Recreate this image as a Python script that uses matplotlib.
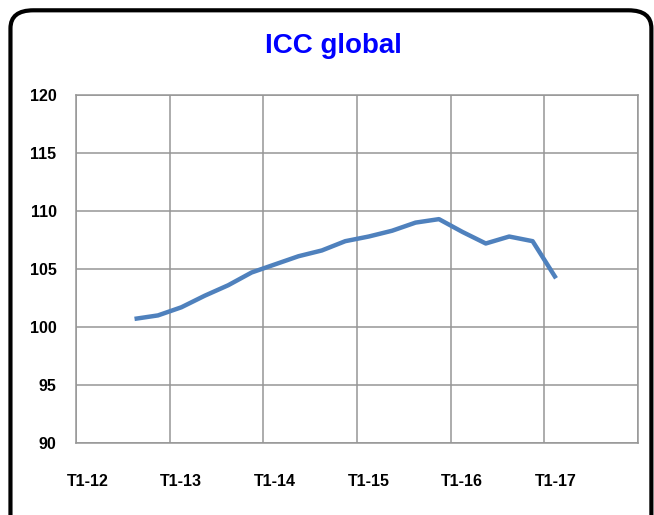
import matplotlib.pyplot as plt
from matplotlib.patches import FancyBboxPatch

# quarterly categories T1-12 .. T4-17, labels on every Q1
year_labels = ['T1-12', 'T1-13', 'T1-14', 'T1-15', 'T1-16', 'T1-17']
n_quarters = 24
first_idx = 2  # series starts at T3-12
icc = [100.7, 101.0, 101.7, 102.7, 103.6, 104.7, 105.4, 106.1, 106.6, 107.4,
       107.8, 108.3, 109.0, 109.3, 108.2, 107.2, 107.8, 107.4, 104.2]

plt.rcParams['font.family'] = ['Liberation Sans Narrow', 'Liberation Sans', 'DejaVu Sans']

fig = plt.figure(figsize=(6.54, 5.15), dpi=100)
ax = fig.add_axes([0.1162, 0.1398, 0.8593, 0.6757])

# rounded frame around the whole chart
frame = FancyBboxPatch((0.016, -0.05), 0.98, 1.03, boxstyle='round,pad=0,rounding_size=0.035',
                       transform=fig.transFigure, fill=False, edgecolor='black', linewidth=3,
                       clip_on=False)
fig.patches.append(frame)

xs = list(range(first_idx, first_idx + len(icc)))
ax.plot(xs, icc, color='#4F81BD', linewidth=3.2, solid_capstyle='butt')

ax.set_xlim(-0.5, n_quarters - 0.5)
ax.set_ylim(90, 120)
ax.set_yticks(range(90, 121, 5))
ax.set_xticks(range(0, n_quarters, 4))
ax.set_xticklabels(year_labels)
ax.set_xticks([-0.5 + 4 * k for k in range(7)], minor=True)

ax.grid(axis='y', color='#969696', linewidth=1.1)
ax.grid(axis='x', which='minor', color='#969696', linewidth=1.1)
ax.set_axisbelow(True)
for s in ax.spines.values():
    s.set_color('#969696')
    s.set_linewidth(1.1)

ax.tick_params(axis='x', which='both', length=0, pad=22)
ax.tick_params(axis='y', length=0, pad=14)
for lab in ax.get_xticklabels() + ax.get_yticklabels():
    lab.set_fontweight('bold')
    lab.set_fontsize(11.5)

fig.text(0.51, 0.91, 'ICC global', ha='center', va='center', color='#0000FF',
         fontsize=20, fontweight='bold')

fig.savefig('out.png', dpi=100)
